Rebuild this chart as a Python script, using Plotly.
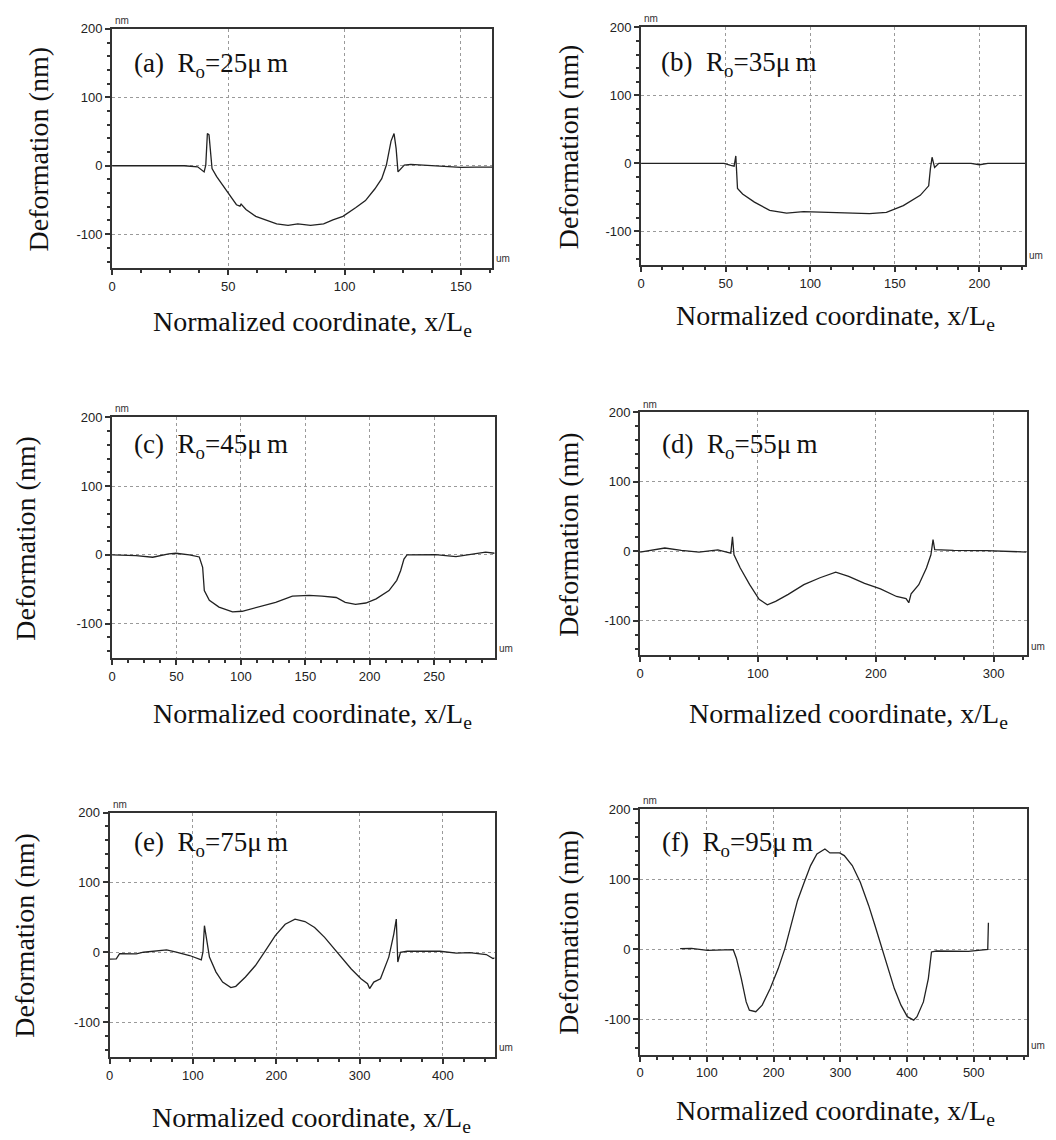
import plotly.graph_objects as go

W, H = 1056, 1140

# ---------------- data ----------------
a_x = [0, 5, 10, 15, 20, 25, 31, 36.8, 39.6, 40.3, 41, 41.7, 42.4, 43, 45, 48, 50.7, 53.5, 55, 55.5, 57.6,
       61.8, 66, 70.8, 75.7, 79.9, 85.4, 91, 95, 99.3, 104.9, 109, 113, 116, 118, 120, 121.3, 122.2, 123,
       125.7, 128.5, 136.8, 145, 150, 156, 163.5]
a_y = [0, 0, 0.5, 1, 1, 0.5, 0, -1.5, -9, 1, 47, 45, 16, -4, -16, -31, -44, -57, -59, -56, -64,
       -74, -79, -85, -87, -85, -87, -85, -79, -74, -61, -51, -34, -19, 1, 36, 47, 25, -9,
       1, 2, 0, -1.5, -2.5, -2, -2]

b_x = [0, 10, 20, 30, 40, 49, 53, 55, 56, 57, 60, 67, 76, 86, 96, 106, 116, 125, 135, 145, 155, 165, 170,
       171, 172, 173.5, 176, 185, 195, 200, 205, 215, 227]
b_y = [0, 0, 0, 0, 0, 0, -3, -4, 11, -37, -45, -57, -69, -73, -71, -72, -73, -73, -74, -72, -62, -47, -33,
       -8, 9, -6, 0, 0, 0, -2, 0, 0, 0]

c_x = [0, 18.6, 31.5, 44, 49.6, 60, 67.7, 70.3, 71.6, 75.5, 83, 93.5, 101, 114, 127, 140, 153, 163, 174,
       181, 189, 197, 205, 215, 221, 224, 226.6, 229, 251, 267, 282, 290, 297]
c_y = [0, -1, -3.4, 1.5, 2.4, 0, -3, -18, -52, -66, -76, -83, -82, -76, -69, -60, -59, -60, -62,
       -69, -72, -70, -64, -52, -37, -23, -6, 0, 0.5, -2.4, 1.5, 4, 2.4]

d_x = [0, 21, 35, 50, 66, 77, 78.4, 79.7, 85, 93, 101, 108, 115, 125.7, 139, 152.7, 166, 177, 190.5, 204,
       217.6, 225.7, 228, 230, 236.5, 243, 246.8, 248.6, 250, 266, 294, 322, 328]
d_y = [-1, 4.8, 1.4, -1, 2, -2.5, 21, -5, -24, -48, -69, -77, -72, -62, -48, -38, -30, -36, -46, -54,
       -65, -68, -74, -61, -48, -24, -5, 17, 2.5, 1.5, 1, -1, -1]

e_x = [0, 8, 12, 32, 40.7, 56.5, 68.4, 80, 96, 110, 112, 113.8, 115.8, 119.8, 127.7, 135.6, 145.5, 151.4,
       163, 175, 187, 198.8, 210.7, 222.5, 234.4, 246, 258, 268, 277.9, 289.7, 301.6, 309.5, 312, 317,
       325, 335, 341, 344, 345.8, 349, 357, 376.7, 396.4, 416, 432, 452, 460, 462]
e_y = [-10, -9.5, -2, -2.4, 0, 1.4, 3.3, 0, -4.7, -11, 0, 38, 23.7, -7, -28.4, -42.7, -50.7, -48.8,
       -35.5, -19, 2.4, 23.7, 40, 47.4, 44, 35.5, 21.3, 7, -7, -23.7, -38, -45, -52, -42.7,
       -38, -7, 26, 47.4, -14, 0, 1.4, 1, 1.4, -1.4, -0.5, -3.3, -9, -8]

f_x = [60, 77, 101, 139.6, 144.4, 151.7, 159, 163.8, 173.4, 183, 195, 207, 217, 226.6, 236, 246, 255.5,
       265, 277, 284.5, 299, 306, 318, 330, 342.5, 352, 362, 371.5, 381, 391, 400.5, 410, 415, 424.6,
       432, 436.7, 444, 492, 519, 521, 522]
f_y = [1, 1.4, -1.4, -0.5, -13, -41.7, -75, -86.7, -89, -79.6, -56, -27.5, 1, 34, 69.7, 95.7, 119.4,
       136, 143, 137.4, 137.4, 133.6, 119.4, 95.7, 62.6, 34, 3.3, -27.5, -56, -79.6, -96, -101, -96, -75,
       -41.7, -3.8, -2.4, -2.8, 0, 0, 38]

panel_letters = ["(a)", "(b)", "(c)", "(d)", "(e)", "(f)"]
radii = [25, 35, 45, 55, 75, 95]
x_max = [163.5, 227, 297, 328, 462, 580]
x_major = [50, 50, 50, 100, 100, 100]
x_minor = [12.5, 12.5, 12.5, 25, 25, 25]
y_range = [-150, 200]
y_ticks = [-100, 0, 100, 200]
y_minor = 20

series = [(a_x, a_y), (b_x, b_y), (c_x, c_y), (d_x, d_y), (e_x, e_y), (f_x, f_y)]

# ---------------- layout geometry (pixels) ----------------
boxes = [  # left, right, top, bottom
    (108.5, 490, 22, 263),
    (639.5, 1025, 20.5, 260),
    (108.5, 492.5, 413, 655),
    (638.5, 1026.5, 408, 652.5),
    (106, 492.5, 810.5, 1056.5),
    (638.5, 1027, 807, 1054),
]
ytitle_x = [35, 567, 22, 567, 21, 567]
xtitle_xy = [(310, 318), (835, 312), (310, 713), (848, 713), (309, 1119), (835, 1112)]
label_xy = [(128, 58), (657, 57), (128, 442), (658, 442), (128, 842), (658, 842)]

def px(x):
    return x / W

def py(y):
    return 1 - y / H

serif = "Liberation Serif, Times New Roman, serif"
sans = "Liberation Sans Narrow, Arial Narrow, Liberation Sans, Arial, sans-serif"
ink = "#222222"

fig = go.Figure()
annotations = []
layout = {}

for i, ((xs, ys), (l, r, t, b)) in enumerate(zip(series, boxes)):
    n = "" if i == 0 else str(i + 1)
    fig.add_trace(go.Scatter(x=xs, y=ys, mode="lines",
                             line=dict(color=ink, width=1.3),
                             xaxis="x" + n, yaxis="y" + n, showlegend=False,
                             hoverinfo="skip"))
    xt = list(range(0, int(x_max[i]) + 1, x_major[i]))
    common = dict(showline=True, linecolor="#333333", linewidth=2, mirror=True,
                  ticks="outside", ticklen=5, tickwidth=1.5, tickcolor="#333333",
                  showgrid=True, gridcolor="#9a9a9a", griddash="dot", gridwidth=1,
                  zeroline=False,
                  tickfont=dict(family=sans, size=13, color="#222222"))
    layout["xaxis" + n] = dict(common, domain=[px(l), px(r)], range=[0, x_max[i]],
                               tickvals=xt, ticktext=[str(v) for v in xt],
                               anchor="y" + n,
                               minor=dict(dtick=x_minor[i], tick0=0, ticks="outside",
                                          ticklen=3, tickcolor="#333333", showgrid=False))
    layout["yaxis" + n] = dict(common, domain=[py(b), py(t)], range=y_range,
                               tickvals=y_ticks, ticktext=[str(v) for v in y_ticks],
                               anchor="x" + n,
                               minor=dict(dtick=y_minor, tick0=0, ticks="outside",
                                          ticklen=3, tickcolor="#333333", showgrid=False))
    annotations.append(dict(text="Deformation (nm)", x=px(ytitle_x[i]), y=py((t + b) / 2),
                            xref="paper", yref="paper", showarrow=False, textangle=-90,
                            xanchor="center", yanchor="middle",
                            font=dict(family=serif, size=28, color="#111111")))
    annotations.append(dict(text="Normalized coordinate, x/L<sub>e</sub>",
                            x=px(xtitle_xy[i][0]), y=py(xtitle_xy[i][1]),
                            xref="paper", yref="paper", showarrow=False,
                            xanchor="center", yanchor="middle",
                            font=dict(family=serif, size=28, color="#111111")))
    annotations.append(dict(text=panel_letters[i] + "\u00a0\u00a0R<sub>o</sub>=" + str(radii[i]) + "\u03bc\u2009m",
                            x=px(label_xy[i][0]), y=py(label_xy[i][1]),
                            xref="paper", yref="paper", showarrow=False,
                            xanchor="left", yanchor="middle",
                            font=dict(family=serif, size=27, color="#111111")))
    annotations.append(dict(text="nm", x=px(l + 1), y=py(t - 1), xref="paper", yref="paper",
                            showarrow=False, xanchor="left", yanchor="bottom",
                            font=dict(family=sans, size=10, color="#333333")))
    annotations.append(dict(text="um", x=px(r + 2), y=py(b - 2), xref="paper", yref="paper",
                            showarrow=False, xanchor="left", yanchor="bottom",
                            font=dict(family=sans, size=10, color="#333333")))

fig.update_layout(width=W, height=H, margin=dict(l=0, r=0, t=0, b=0),
                  paper_bgcolor="white", plot_bgcolor="white", hovermode=False,
                  annotations=annotations, **layout)

fig.write_html("out.html", config={"displayModeBar": False},
               post_script="document.body.style.margin='0';document.body.style.overflow='hidden';")
